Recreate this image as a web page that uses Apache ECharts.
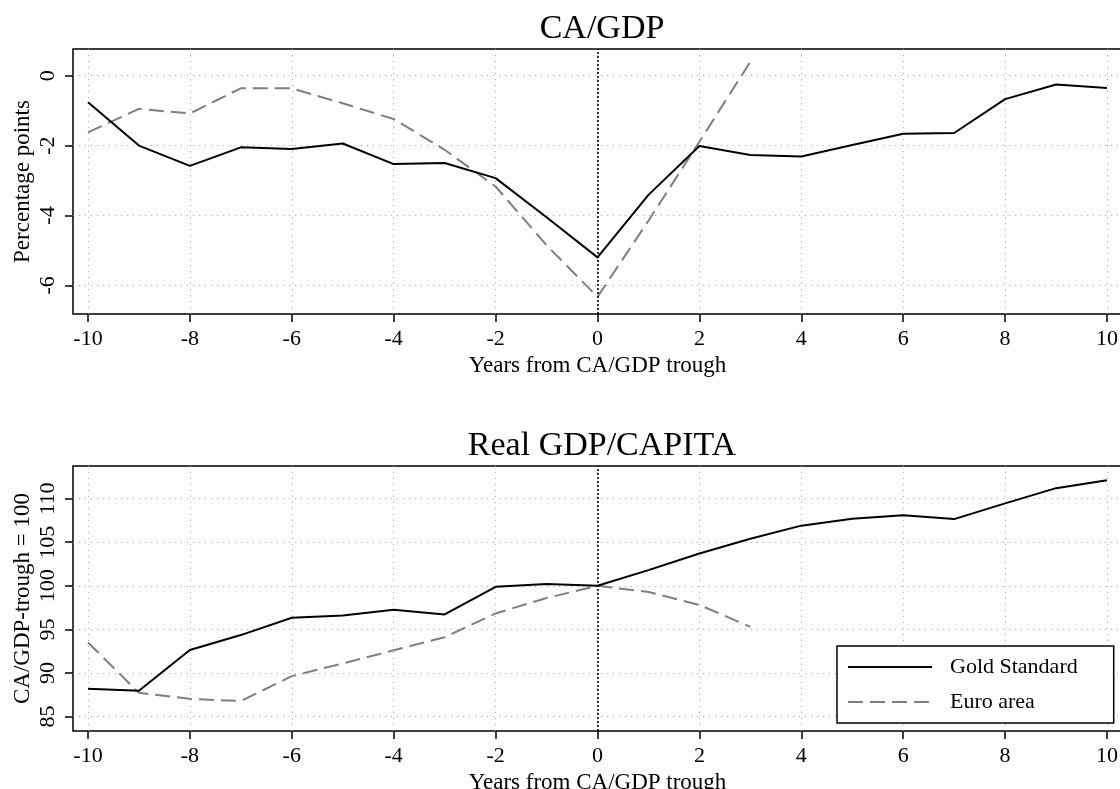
<!DOCTYPE html>
<html><head><meta charset="utf-8">
<script src="https://cdn.jsdelivr.net/npm/echarts@6/dist/echarts.min.js"></script>
<style>html,body{margin:0;padding:0;background:#fff}#c{width:1120px;height:789px}</style>
</head><body><div id="c"></div>
<script>
// ---- data ----
const years = [-10,-9,-8,-7,-6,-5,-4,-3,-2,-1,0,1,2,3,4,5,6,7,8,9,10];
const xTicks = [-10,-8,-6,-4,-2,0,2,4,6,8,10];
const caTicks = [-6,-4,-2,0];
const gdpTicks = [85,90,95,100,105,110];
const caGold = [-0.76,-2.0,-2.58,-2.05,-2.1,-1.94,-2.53,-2.5,-2.93,-4.05,-5.2,-3.41,-2.01,-2.27,-2.31,-1.98,-1.66,-1.64,-0.67,-0.25,-0.35];
const caEuro = [-1.62,-0.95,-1.08,-0.36,-0.36,-0.79,-1.24,-2.12,-3.17,-4.85,-6.33,-4.15,-1.89,0.40];
const gdpGold = [88.19,87.96,92.63,94.35,96.33,96.6,97.25,96.72,99.89,100.2,100,101.8,103.7,105.4,106.9,107.7,108.1,107.65,109.45,111.2,112.1];
const gdpEuro = [93.5,87.73,87.04,86.78,89.64,91.1,92.6,94.1,96.83,98.6,100,99.3,97.8,95.3];
const titles = ['CA/GDP','Real GDP/CAPITA'];
const yNames = ['Percentage points','CA/GDP-trough = 100'];
const xName = 'Years from CA/GDP trough';
const seriesNames = ['Gold Standard','Euro area'];

const FONT = '"Liberation Serif", "Times New Roman", serif';
const pairs = arr => arr.map((v,i)=>[years[i], v]);

const grids = [
  {left:73, top:49, width:1049, height:265},
  {left:73, top:466, width:1049, height:265}
].map(g => Object.assign(g, {show:true, borderColor:'#000', borderWidth:1.5, backgroundColor:'rgba(0,0,0,0)', outerBoundsMode:'none', containLabel:false}));

const gridLine = {show:true, lineStyle:{color:'#a8a8a8', type:[1,5], width:1}};
const tickStyle = {show:true, inside:false, length:8, lineStyle:{color:'#000', width:1.5}};

const xAxes = [0,1].map(i => ({
  type:'value', gridIndex:i, min:-10.294, max:10.294, position:'bottom',
  axisLine:{show:false, onZero:false},
  axisTick:Object.assign({customValues:xTicks}, tickStyle),
  axisLabel:{customValues:xTicks, color:'#000', fontFamily:FONT, fontSize:22, margin:14},
  splitLine:gridLine,
  name:xName, nameLocation:'middle', nameGap:40, nameMoveOverlap:false,
  nameTextStyle:{color:'#000', fontFamily:FONT, fontSize:23}
}));

const yRanges = [[-6.82,0.765],[83.35,113.74]];
const yTickSets = [caTicks, gdpTicks];
const yAxes = [0,1].map(i => ({
  type:'value', gridIndex:i, min:yRanges[i][0], max:yRanges[i][1], position:'left',
  axisLine:{show:false, onZero:false},
  axisTick:Object.assign({customValues:yTickSets[i]}, tickStyle),
  axisLabel:{customValues:yTickSets[i], color:'#000', fontFamily:FONT, fontSize:22, rotate:90, margin:14},
  splitLine:gridLine,
  name:yNames[i], nameLocation:'middle', nameGap:39, nameMoveOverlap:false,
  nameTextStyle:{color:'#000', fontFamily:FONT, fontSize:23}
}));

const zeroLine = {
  silent:true, symbol:'none', label:{show:false},
  lineStyle:{color:'#000', type:[2,2], width:1.6},
  data:[{xAxis:0}]
};

const goldStyle = {color:'#000', width:2, type:'solid'};
const euroStyle = {color:'#7f7f7f', width:2, type:[15,7]};

const series = [];
[[caGold, caEuro],[gdpGold, gdpEuro]].forEach((pair, i) => {
  series.push({name:seriesNames[0], type:'line', xAxisIndex:i, yAxisIndex:i, data:pairs(pair[0]),
    symbol:'none', showSymbol:false, color:'#000', lineStyle:goldStyle, z:4, animation:false,
    markLine: zeroLine});
  series.push({name:seriesNames[1], type:'line', xAxisIndex:i, yAxisIndex:i, data:pairs(pair[1]),
    symbol:'none', showSymbol:false, color:'#7f7f7f', lineStyle:euroStyle, z:3, animation:false});
});

const chart = echarts.init(document.getElementById('c'), null, {renderer:'canvas'});
chart.setOption({
  backgroundColor:'#fff',
  animation:false,
  title: titles.map((t,i) => ({
    text:t, left:597, top: i===0 ? 7 : 424, textAlign:'center',
    textStyle:{color:'#000', fontFamily:FONT, fontSize:34, fontWeight:'normal'}
  })),
  legend:{
    show:true, orient:'vertical', left:837, top:646,
    data:seriesNames,
    backgroundColor:'#fff', borderColor:'#000', borderWidth:1.5,
    padding:[10,36,10,10], itemWidth:84, itemHeight:14, itemGap:13,
    itemStyle:{color:'rgba(0,0,0,0)', borderWidth:0, opacity:0},
    textStyle:{color:'#000', fontFamily:FONT, fontSize:22, lineHeight:22, padding:[0,0,0,13]}
  },
  grid:grids, xAxis:xAxes, yAxis:yAxes, series:series
});
</script></body></html>
